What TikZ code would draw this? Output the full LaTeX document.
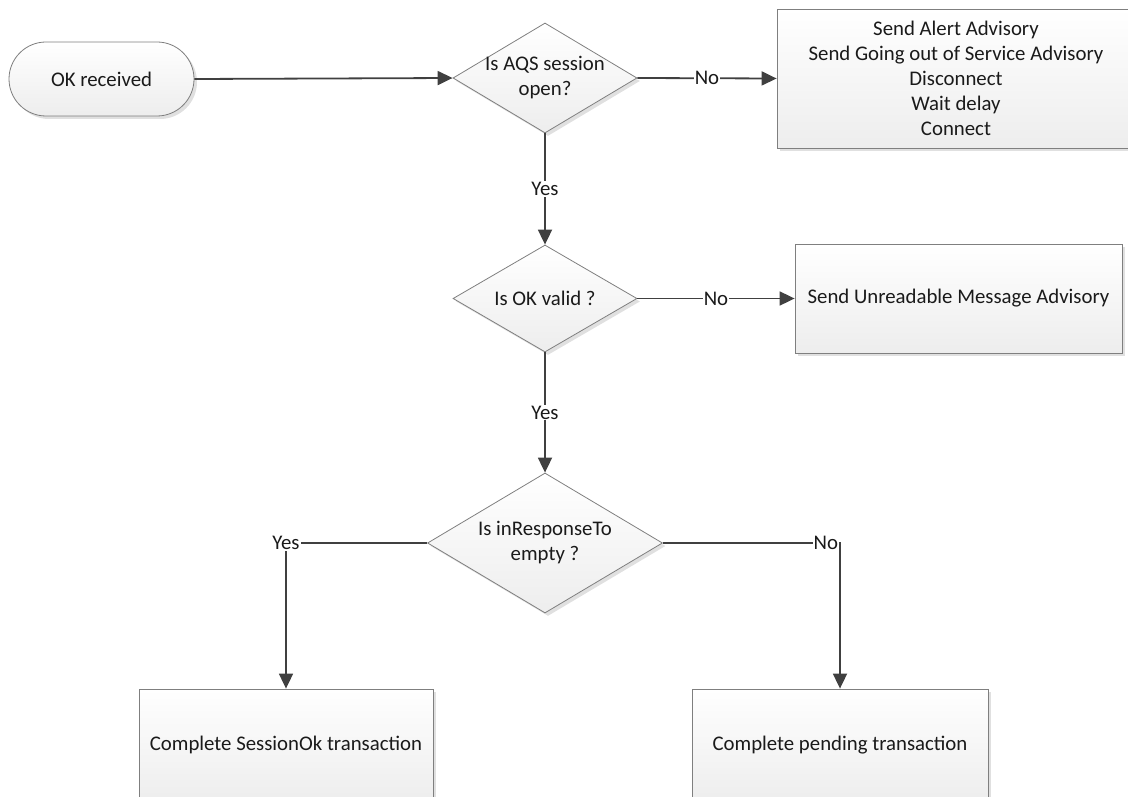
\documentclass[tikz,border=0pt]{standalone}
\usepackage{fontspec}
\setmainfont{Carlito}
\usetikzlibrary{arrows.meta,shapes.geometric,shadows}
\definecolor{edge}{HTML}{7F7F7F}
\definecolor{wire}{HTML}{404040}
\definecolor{ink}{HTML}{1A1A1A}
\tikzset{
  shapebase/.style={draw=edge, line width=0.8pt, top color=white, bottom color=black!7,
    drop shadow={shadow xshift=3pt, shadow yshift=-3pt, fill=black, opacity=0.12},
    text=ink, align=center, inner sep=0pt},
  procbox/.style={shapebase, rectangle},
  termbox/.style={shapebase, rectangle, rounded corners=37pt, minimum width=185pt, minimum height=74pt},
  decision/.style={shapebase, diamond},
  flow/.style={draw=wire, line width=1.8pt, -{Triangle[length=15pt,width=14pt]}},
  lbl/.style={fill=white, text=ink, inner sep=1pt, font=\fontsize{20.8}{25}\selectfont},
}
\begin{document}
\begin{tikzpicture}[x=1pt, y=-1pt, font=\fontsize{20.8}{25}\selectfont]
\useasboundingbox (0,0) rectangle (1128,797);
\clip (0,0) rectangle (1128,797);

% start terminal
\node[termbox] (start) at (101.5,79) {OK received};

% decisions
\node[decision, minimum width=184pt, minimum height=110pt,
      label={[align=center, text=ink]center:Is AQS session\\open?}] (d1) at (545,78) {};
\node[decision, minimum width=184pt, minimum height=107pt,
      label={[align=center, text=ink]center:Is OK valid ?}] (d2) at (545,298.5) {};
\node[decision, minimum width=235pt, minimum height=140pt,
      label={[align=center, text=ink]center:Is inResponseTo\\empty ?}] (d3) at (545,543) {};

% actions (the first one runs past the right edge)
\node[procbox, minimum width=358pt, minimum height=139pt] (a1) at (956,78.5)
  {Send Alert Advisory\\Send Going out of Service Advisory\\Disconnect\\Wait delay\\Connect};
\node[procbox, minimum width=327pt, minimum height=109pt] (a2) at (958.5,298.5)
  {Send Unreadable Message Advisory};
\node[procbox, minimum width=294pt, minimum height=112pt] (a3) at (286,745)
  {Complete SessionOk transaction};
\node[procbox, minimum width=296pt, minimum height=112pt] (a4) at (840,745)
  {Complete pending transaction};

% connectors
\draw[flow] (start.east) -- (d1.west);
\draw[flow] (d1.east) -- node[lbl] {No} (a1.west);
\draw[flow] (d1.south) -- node[lbl] {Yes} (d2.north);
\draw[flow] (d2.east) -- node[lbl] {No} (a2.west);
\draw[flow] (d2.south) -- node[lbl] {Yes} (d3.north);
\draw[flow] (d3.west) -| node[lbl, pos=0.5] {Yes} (a3.north);
\draw[flow] (d3.east) -| node[lbl, pos=0.5, anchor=east] {No} (a4.north);
\end{tikzpicture}
\end{document}
